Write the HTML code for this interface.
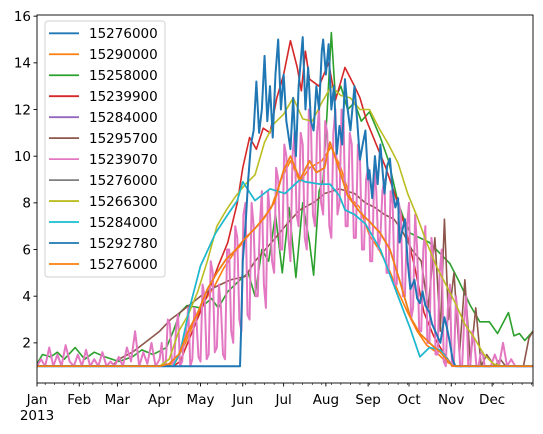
<!DOCTYPE html>
<html><head><meta charset="utf-8"><style>
html,body{margin:0;padding:0;background:#fff;}
svg{display:block;font-family:"DejaVu Sans","Liberation Sans",sans-serif;}
</style></head><body>
<svg id="chart" width="543" height="434" viewBox="0 0 543 434">
<g id="series"></g>
<g id="axes"></g>
<g id="legend"></g>
</svg>
<script>
// ---- data ----
const seriesNames = ["15276000","15290000","15258000","15239900","15284000","15295700","15239070","15276000","15266300","15284000","15292780","15276000"];
const seriesColors = ["#1f77b4","#ff7f0e","#2ca02c","#d62728","#9467bd","#8c564b","#e377c2","#7f7f7f","#bcbd22","#17becf","#1f77b4","#ff7f0e"];
const monthLabels = ["Jan","Feb","Mar","Apr","May","Jun","Jul","Aug","Sep","Oct","Nov","Dec"];
const monthStartDays = [0,31,59,90,120,151,181,212,243,273,304,334];
const yTicks = [2,4,6,8,10,12,14,16];

const orangeADays = [0,90,97,104,111,118,125,132,139,146,153,160,167,174,181,186,193,200,205,211,215,222,228,237,244,252,259,266,274,281,288,296,305,364];
const orangeAVals = [1,1,1.1,1.5,2.5,3.3,4.3,5,5.6,6,6.5,6.9,7.4,8,9.4,10,9,9.8,9.3,9.5,10.6,9.4,8.3,7.6,7.2,6.7,6,4.7,3.1,2.4,2.0,1.6,1,1];
const orangeBDays = [0,95,102,109,116,123,130,137,144,151,158,165,172,179,186,193,200,209,216,223,230,237,244,251,258,265,272,279,286,293,300,307,364];
const orangeBVals = [1,1,1.2,2,3,3.8,4.4,5.2,5.8,6.3,6.8,7.2,7.8,9,9.8,8.9,9.5,9.8,10.4,9.5,8.2,7.8,6.6,6.0,5.2,4.2,3.3,2.5,1.9,1.6,1.2,1,1];
const greenDays = [0,4,10,15,20,28,35,42,50,60,70,77,85,95,100,105,110,120,128,133,140,149,155,160,165,170,175,180,185,190,195,200,203,207,210,213,216,219,223,228,233,238,244,252,258,265,270,274,288,303,310,318,325,332,338,346,350,354,358,364];
const greenVals = [1.1,1.5,1.4,1.6,1.3,1.8,1.3,1.6,1.4,1.2,1.4,1.7,1.5,1.8,2.5,3.3,3.6,3.5,3.9,3.5,4.2,4.7,5,4,6,5.5,7.5,5,7.8,4.8,8,6.3,4.9,8.5,9,12,15.3,12.5,13,12,12.3,11.5,11.9,10.8,9.8,8,7.2,6.7,6.3,5.4,4.6,3.6,2.9,2.9,2.4,3.3,2.3,2.4,2.1,2.5];
const redDays = [0,100,105,112,119,126,133,140,147,151,156,161,166,171,176,181,186,191,194,197,200,207,214,219,226,233,237,242,249,256,263,270,277,284,291,298,305,364];
const redVals = [1,1,1.2,2.2,3.2,4.2,5.3,6.3,8.0,9.5,10.8,10.3,11.2,11.0,12.5,13.5,14.95,13.8,12.8,14.5,13.3,13,14,12.4,13.8,13,12.5,11.5,10.5,9.5,8.3,7,5.3,3.3,2.3,1.6,1,1];
const brownDays = [0,55,60,70,79,90,98,105,120,131,142,153,160,175,185,193,204,211,222,233,241,248,255,262,268,275,282,287,292,296,299,302,306,310,314,318,322,326,330,336,340,344,350,357,361,364];
const brownVals = [1,1,1.3,1.6,2,2.5,3,3.3,4,4.4,4.7,4.85,5.5,6.5,7.2,7.7,8.05,8.4,8.6,8.4,8,7.8,7.5,7.3,6.8,6,5.5,3.5,6.5,2.5,7.3,3,5,1.5,4.7,1.2,3.5,1,1.5,1,1.3,1,1,1,2.2,2.5];
const pinkVals = [1,1.3,1,1.8,1,1.5,1,1.9,1.2,1,1.5, 1,1.7,1,1.3,1,1.6,1,1.2,1, 1.4,1,1.8,1.2,2.5,1,1.6,1.1,2,1, 1.3,1,3,1.2,2.6,1,2.2,3.5,1.3,3, 1.2,4,1.5,5,1.8,3.5,1.3,6,2,6.5, 2.5,8,3,7,4,8.5,3.5,7.5,5,9, 6,10,5.5,11,7,10.5,6,11.5,7,12, 7.5,11,6.5,12,8,11.5,7,10.5,6.5,10, 6,9.5,5.5,8.5,6.5,9,5,8,4.5,7.5, 4,8,3.5,6,2.5,7,2,5.5,1.5,6, 1,4.5,1.2,3,1,4,1,2,1,1.6, 1,1,1.5,1,2,1,1.3,1,1,1,1,1];
const pinkStepDays = 3;
const pinkVals2 = [2,1.1,2.8,1,3.2,1.2,2.5,1,3.5,1.4, 4.5,1.3,5.5,1.6,4.5,1.5,6,2.5,7,3, 7.5,3.2,8,4,7,4.5,8.5,5.5,9.5,6, 10.5,6.5,10,7.5,11,6.5,12,7.5,11,8, 11.5,7,11,7.5,12,7,11,6.5,10.5,6, 9,5.5,9.5,6,8.5,5,8.5,4.5,8,4, 7,3,7.5,2.5,6,2,6.5,1.5,5,1.2, 3.5,1,4,1,3,1,2.5,1,1.5,1];
const pinkVals2StartDay = 91.5;
const oliveDays = [0,90,97,104,111,118,125,132,139,146,153,160,167,174,181,188,195,202,209,216,223,230,237,244,251,258,265,272,279,286,293,300,307,314,321,328,335,342,364];
const oliveVals = [1,1,1.3,2.5,3.2,4.2,5.5,7,7.7,8.3,8.8,9.2,10.6,11.4,11.8,12.5,11.6,11.5,12.3,13,12.6,12.5,12.0,12.0,11.2,10.5,9.7,8.4,7.4,6.3,5.3,4.5,3.7,2.8,2.2,1.5,1.1,1,1];
const cyanDays = [0,100,105,112,120,131,140,147,151,160,171,182,193,197,208,215,222,226,233,241,252,263,274,281,288,296,305,364];
const cyanVals = [1,1,1.6,3.5,5.3,6.7,7.5,8.1,8.9,8.1,8.6,8.4,9,8.9,8.8,8.8,8.3,7.7,7.5,7.1,6,4.3,2.6,1.4,1.8,1.7,1,1];
const blue2Days = [0,149,150,151,153,155,157,159,161,163,165,167,169,171,173,175,177,179,181,183,186,188,190,192,195,197,199,201,203,205,207,209,210,212,214,216,218,220,222,224,226,228,230,233,235,237,239,241,243,244,246,248,250,252,255,257,259,261,263,265,266,268,270,272,274,277,279,281,283,285,288,290,293,296,299,301,303,305,307,364];
const blue2Vals = [1,1,3,5.5,7,9,10.5,11.1,13.2,11,12,14.3,11.5,13,10.8,13.5,15,12,13.5,11.5,10.3,12.5,10,13,15.1,12,13.8,11.5,11.1,13,12,14.5,15,13.5,14.8,12,13,10.1,11.3,10.5,13.3,12,11.1,13,11.5,9.85,10.5,11.1,9,9.4,8.2,10,8.8,10.5,8.4,9.6,9.9,8.5,7.8,8.2,6.3,6.8,7.3,5.5,4.3,4.7,3.9,3.7,4.2,3.6,3.3,2.8,2.4,2.0,3.1,2.6,2,1.3,1,1];

// ---- axes ----
const X0 = 37, X1 = 533, Y0 = 15, Y1 = 383;
const DMIN = 0, DMAX = 364, VMIN = 0.28, VMAX = 16.05;
function xScale(d){ return X0 + (d - DMIN) / (DMAX - DMIN) * (X1 - X0); }
function yScale(v){ return Y1 - (v - VMIN) / (VMAX - VMIN) * (Y1 - Y0); }

const NS = "http://www.w3.org/2000/svg";
function mk(tag, attrs, parent){
  const el = document.createElementNS(NS, tag);
  for (const k in attrs) el.setAttribute(k, attrs[k]);
  parent.appendChild(el);
  return el;
}
function pathFrom(days, vals){
  return days.map((d,i)=>(i?"L":"M")+xScale(d).toFixed(2)+","+yScale(vals[i]).toFixed(2)).join("");
}
// merge the two pink sample sets by day
const pinkPts = pinkVals.map((v,i)=>[i*pinkStepDays, v])
  .concat(pinkVals2.map((v,i)=>[pinkVals2StartDay + i*pinkStepDays, v]))
  .sort((a,b)=>a[0]-b[0]);
const pinkDays = pinkPts.map(p=>p[0]);
const pinkAll = pinkPts.map(p=>p[1]);

const seriesData = [
  [orangeADays, orangeAVals],
  [orangeBDays, orangeBVals],
  [greenDays, greenVals],
  [redDays, redVals],
  [cyanDays, cyanVals],
  [brownDays, brownVals],
  [pinkDays, pinkAll],
  [orangeADays, orangeAVals],
  [oliveDays, oliveVals],
  [cyanDays, cyanVals],
  [blue2Days, blue2Vals],
  [orangeADays, orangeAVals]
];

const sg = document.getElementById("series");
const clip = mk("clipPath", {id:"plotclip"}, sg);
mk("rect", {x:X0, y:Y0, width:X1-X0, height:Y1-Y0}, clip);
seriesData.forEach((sd, i) => {
  const p = mk("path", {d: pathFrom(sd[0], sd[1]), fill:"none", stroke: seriesColors[i], "stroke-width": (i===6||i===10)?2:1.6, "stroke-linejoin":"round", "clip-path":"url(#plotclip)"}, sg);
  
  
});

const ax = document.getElementById("axes");
const frame = mk("rect", {x:X0, y:Y0, width:X1-X0, height:Y1-Y0, fill:"none", stroke:"#000", "stroke-width":0.9}, ax);



yTicks.forEach(v => {
  const y = yScale(v);
  const t = mk("line", {x1:X0-3.5, x2:X0, y1:y, y2:y, stroke:"#000", "stroke-width":0.9}, ax);
  
  
  const lb = mk("text", {x:X0-6, y:y+4.8, "text-anchor":"end", "font-size":"13.5px", fill:"#000"}, ax);
  lb.textContent = String(v);
  
  
});

for (let d = 6; d < 364; d += 7) {
  if (monthStartDays.indexOf(d) >= 0) continue;
  const m = mk("line", {x1:xScale(d), x2:xScale(d), y1:Y1, y2:Y1+2, stroke:"#000", "stroke-width":0.6}, ax);
  
  
}
monthStartDays.forEach((d,i) => {
  const x = xScale(d);
  const t = mk("line", {x1:x, x2:x, y1:Y1, y2:Y1+3.5, stroke:"#000", "stroke-width":0.9}, ax);
  
  
  const lb = mk("text", {x:x, y:Y1+21, "text-anchor":"middle", "font-size":"13.5px", fill:"#000"}, ax);
  lb.textContent = monthLabels[i];
  
  
});
const endTick = mk("line", {x1:X1, x2:X1, y1:Y1, y2:Y1+3.5, stroke:"#000", "stroke-width":0.9}, ax);


const yr = mk("text", {x:xScale(0), y:Y1+37, "text-anchor":"middle", "font-size":"13.5px", fill:"#000"}, ax);
yr.textContent = "2013";



// ---- legend ----
const lg = document.getElementById("legend");
const box = mk("rect", {x:45, y:21, width:120, height:256, rx:3, fill:"#fff", "fill-opacity":0.8, stroke:"#d0d0d0", "stroke-width":1}, lg);


seriesNames.forEach((n,i) => {
  const y = 33.3 + i*20.97;
  const ln = mk("line", {x1:49, x2:79, y1:y, y2:y, stroke:seriesColors[i], "stroke-width":1.8}, lg);
  
  
  const tx = mk("text", {x:89, y:y+4.8, "font-size":"13.5px", fill:"#000"}, lg);
  tx.textContent = n;
  
  
});
</script>
</body></html>
